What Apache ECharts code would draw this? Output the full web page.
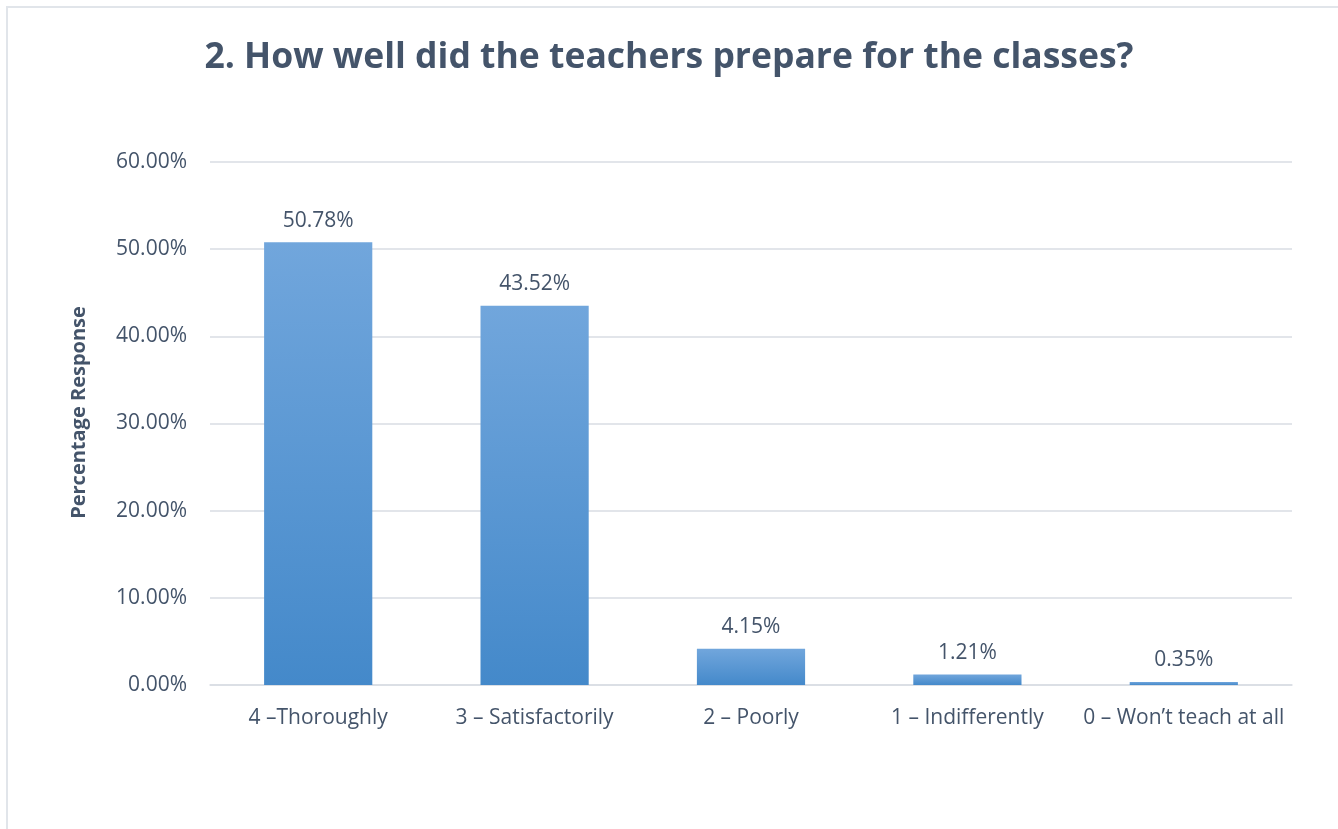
<!DOCTYPE html>
<html><head><meta charset="utf-8">
<script src="https://cdn.jsdelivr.net/npm/echarts@6/dist/echarts.min.js"></script>
<style>
html,body{margin:0;padding:0;background:#fff;overflow:hidden}
#frame{position:absolute;left:6px;top:6px;width:1400px;height:900px;border-left:2px solid #e1e5ea;border-top:2px solid #e1e5ea;}
#chart{position:absolute;left:0;top:0;width:1338px;height:829px}
</style></head>
<body>
<div id="frame"></div>
<div id="chart"></div>
<script>
const categories = ["4 \u2013Thoroughly", "3 \u2013 Satisfactorily", "2 \u2013 Poorly", "1 \u2013 Indifferently", "0 \u2013 Won\u2019t teach at all"];
const values = [50.78, 43.52, 4.15, 1.21, 0.35];
const titleText = "2. How well did the teachers prepare for the classes?";
const yAxisName = "Percentage Response";

const txt = '#44546a';
const font = 'Open Sans';
const chart = echarts.init(document.getElementById('chart'));
chart.setOption({
  animation: false,
  title: {
    text: titleText, left: 'center', top: 35,
    textStyle: {fontFamily: font, fontWeight: 'bold', fontSize: 35.5, color: txt}
  },
  grid: {left: 210, right: 46, top: 162, bottom: 144},
  xAxis: {
    type: 'category', data: categories,
    axisLine: {lineStyle: {color: '#d9dde3', width: 1.5}},
    axisTick: {show: false},
    axisLabel: {fontFamily: font, fontSize: 21, color: txt, margin: 23, interval: 0}
  },
  yAxis: {
    type: 'value', min: 0, max: 60, interval: 10,
    name: yAxisName, nameLocation: 'middle', nameGap: 121,
    nameTextStyle: {fontFamily: font, fontWeight: 'bold', fontSize: 20, color: txt, padding: [0, 0, 0, 22]},
    axisLabel: {fontFamily: font, fontSize: 21, color: txt, margin: 23, formatter: v => v.toFixed(2) + '%'},
    splitLine: {lineStyle: {color: '#d9dde3', width: 1.5}},
    axisLine: {show: false}, axisTick: {show: false}
  },
  series: [{
    type: 'bar', data: values, barWidth: '50%',
    itemStyle: {color: new echarts.graphic.LinearGradient(0, 0, 0, 1, [
      {offset: 0, color: '#71a6dc'}, {offset: 1, color: '#4489ca'}])},
    label: {show: true, position: 'top', distance: 11, fontFamily: font, fontSize: 21, color: txt,
      formatter: p => p.value.toFixed(2) + '%'}
  }]
});
</script>
</body></html>
